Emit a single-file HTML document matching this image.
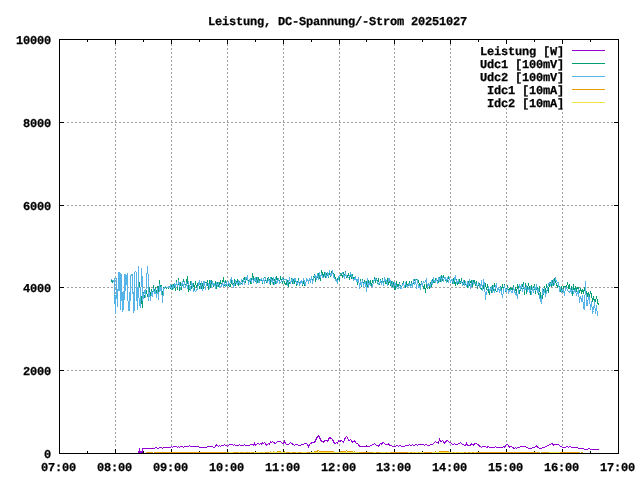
<!DOCTYPE html>
<html><head><meta charset="utf-8"><style>
html,body{margin:0;padding:0;background:#fff;width:640px;height:480px;overflow:hidden}
#tx{position:absolute;left:0;top:0;width:640px;height:480px;will-change:transform}
.t{position:absolute;font-family:"Liberation Mono",monospace;font-weight:bold;font-size:12px;letter-spacing:-0.2px;text-rendering:geometricPrecision;line-height:8px;height:8px;white-space:pre;color:#000;-webkit-text-stroke:0.25px #000}
</style></head><body>
<svg width="640" height="480" viewBox="0 0 640 480" shape-rendering="crispEdges" style="position:absolute;left:0;top:0"><rect width="640" height="480" fill="#fff"/><path d="M115 44h1v2h-1zM115 48h1v2h-1zM115 52h1v2h-1zM115 56h1v2h-1zM115 60h1v2h-1zM115 64h1v2h-1zM115 68h1v2h-1zM115 72h1v2h-1zM115 76h1v2h-1zM115 80h1v2h-1zM115 84h1v2h-1zM115 88h1v2h-1zM115 92h1v2h-1zM115 96h1v2h-1zM115 100h1v2h-1zM115 104h1v2h-1zM115 108h1v2h-1zM115 112h1v2h-1zM115 116h1v2h-1zM115 120h1v2h-1zM115 124h1v2h-1zM115 128h1v2h-1zM115 132h1v2h-1zM115 136h1v2h-1zM115 140h1v2h-1zM115 144h1v2h-1zM115 148h1v2h-1zM115 152h1v2h-1zM115 156h1v2h-1zM115 160h1v2h-1zM115 164h1v2h-1zM115 168h1v2h-1zM115 172h1v2h-1zM115 176h1v2h-1zM115 180h1v2h-1zM115 184h1v2h-1zM115 188h1v2h-1zM115 192h1v2h-1zM115 196h1v2h-1zM115 200h1v2h-1zM115 204h1v2h-1zM115 208h1v2h-1zM115 212h1v2h-1zM115 216h1v2h-1zM115 220h1v2h-1zM115 224h1v2h-1zM115 228h1v2h-1zM115 232h1v2h-1zM115 236h1v2h-1zM115 240h1v2h-1zM115 244h1v2h-1zM115 248h1v2h-1zM115 252h1v2h-1zM115 256h1v2h-1zM115 260h1v2h-1zM115 264h1v2h-1zM115 268h1v2h-1zM115 272h1v2h-1zM115 276h1v2h-1zM115 280h1v2h-1zM115 284h1v2h-1zM115 288h1v2h-1zM115 292h1v2h-1zM115 296h1v2h-1zM115 300h1v2h-1zM115 304h1v2h-1zM115 308h1v2h-1zM115 312h1v2h-1zM115 316h1v2h-1zM115 320h1v2h-1zM115 324h1v2h-1zM115 328h1v2h-1zM115 332h1v2h-1zM115 336h1v2h-1zM115 340h1v2h-1zM115 344h1v2h-1zM115 348h1v2h-1zM115 352h1v2h-1zM115 356h1v2h-1zM115 360h1v2h-1zM115 364h1v2h-1zM115 368h1v2h-1zM115 372h1v2h-1zM115 376h1v2h-1zM115 380h1v2h-1zM115 384h1v2h-1zM115 388h1v2h-1zM115 392h1v2h-1zM115 396h1v2h-1zM115 400h1v2h-1zM115 404h1v2h-1zM115 408h1v2h-1zM115 412h1v2h-1zM115 416h1v2h-1zM115 420h1v2h-1zM115 424h1v2h-1zM115 428h1v2h-1zM115 432h1v2h-1zM115 436h1v2h-1zM115 440h1v2h-1zM115 444h1v2h-1z" fill="#a0a0a0"/><path d="M171 44h1v2h-1zM171 48h1v2h-1zM171 52h1v2h-1zM171 56h1v2h-1zM171 60h1v2h-1zM171 64h1v2h-1zM171 68h1v2h-1zM171 72h1v2h-1zM171 76h1v2h-1zM171 80h1v2h-1zM171 84h1v2h-1zM171 88h1v2h-1zM171 92h1v2h-1zM171 96h1v2h-1zM171 100h1v2h-1zM171 104h1v2h-1zM171 108h1v2h-1zM171 112h1v2h-1zM171 116h1v2h-1zM171 120h1v2h-1zM171 124h1v2h-1zM171 128h1v2h-1zM171 132h1v2h-1zM171 136h1v2h-1zM171 140h1v2h-1zM171 144h1v2h-1zM171 148h1v2h-1zM171 152h1v2h-1zM171 156h1v2h-1zM171 160h1v2h-1zM171 164h1v2h-1zM171 168h1v2h-1zM171 172h1v2h-1zM171 176h1v2h-1zM171 180h1v2h-1zM171 184h1v2h-1zM171 188h1v2h-1zM171 192h1v2h-1zM171 196h1v2h-1zM171 200h1v2h-1zM171 204h1v2h-1zM171 208h1v2h-1zM171 212h1v2h-1zM171 216h1v2h-1zM171 220h1v2h-1zM171 224h1v2h-1zM171 228h1v2h-1zM171 232h1v2h-1zM171 236h1v2h-1zM171 240h1v2h-1zM171 244h1v2h-1zM171 248h1v2h-1zM171 252h1v2h-1zM171 256h1v2h-1zM171 260h1v2h-1zM171 264h1v2h-1zM171 268h1v2h-1zM171 272h1v2h-1zM171 276h1v2h-1zM171 280h1v2h-1zM171 284h1v2h-1zM171 288h1v2h-1zM171 292h1v2h-1zM171 296h1v2h-1zM171 300h1v2h-1zM171 304h1v2h-1zM171 308h1v2h-1zM171 312h1v2h-1zM171 316h1v2h-1zM171 320h1v2h-1zM171 324h1v2h-1zM171 328h1v2h-1zM171 332h1v2h-1zM171 336h1v2h-1zM171 340h1v2h-1zM171 344h1v2h-1zM171 348h1v2h-1zM171 352h1v2h-1zM171 356h1v2h-1zM171 360h1v2h-1zM171 364h1v2h-1zM171 368h1v2h-1zM171 372h1v2h-1zM171 376h1v2h-1zM171 380h1v2h-1zM171 384h1v2h-1zM171 388h1v2h-1zM171 392h1v2h-1zM171 396h1v2h-1zM171 400h1v2h-1zM171 404h1v2h-1zM171 408h1v2h-1zM171 412h1v2h-1zM171 416h1v2h-1zM171 420h1v2h-1zM171 424h1v2h-1zM171 428h1v2h-1zM171 432h1v2h-1zM171 436h1v2h-1zM171 440h1v2h-1zM171 444h1v2h-1z" fill="#a0a0a0"/><path d="M227 44h1v2h-1zM227 48h1v2h-1zM227 52h1v2h-1zM227 56h1v2h-1zM227 60h1v2h-1zM227 64h1v2h-1zM227 68h1v2h-1zM227 72h1v2h-1zM227 76h1v2h-1zM227 80h1v2h-1zM227 84h1v2h-1zM227 88h1v2h-1zM227 92h1v2h-1zM227 96h1v2h-1zM227 100h1v2h-1zM227 104h1v2h-1zM227 108h1v2h-1zM227 112h1v2h-1zM227 116h1v2h-1zM227 120h1v2h-1zM227 124h1v2h-1zM227 128h1v2h-1zM227 132h1v2h-1zM227 136h1v2h-1zM227 140h1v2h-1zM227 144h1v2h-1zM227 148h1v2h-1zM227 152h1v2h-1zM227 156h1v2h-1zM227 160h1v2h-1zM227 164h1v2h-1zM227 168h1v2h-1zM227 172h1v2h-1zM227 176h1v2h-1zM227 180h1v2h-1zM227 184h1v2h-1zM227 188h1v2h-1zM227 192h1v2h-1zM227 196h1v2h-1zM227 200h1v2h-1zM227 204h1v2h-1zM227 208h1v2h-1zM227 212h1v2h-1zM227 216h1v2h-1zM227 220h1v2h-1zM227 224h1v2h-1zM227 228h1v2h-1zM227 232h1v2h-1zM227 236h1v2h-1zM227 240h1v2h-1zM227 244h1v2h-1zM227 248h1v2h-1zM227 252h1v2h-1zM227 256h1v2h-1zM227 260h1v2h-1zM227 264h1v2h-1zM227 268h1v2h-1zM227 272h1v2h-1zM227 276h1v2h-1zM227 280h1v2h-1zM227 284h1v2h-1zM227 288h1v2h-1zM227 292h1v2h-1zM227 296h1v2h-1zM227 300h1v2h-1zM227 304h1v2h-1zM227 308h1v2h-1zM227 312h1v2h-1zM227 316h1v2h-1zM227 320h1v2h-1zM227 324h1v2h-1zM227 328h1v2h-1zM227 332h1v2h-1zM227 336h1v2h-1zM227 340h1v2h-1zM227 344h1v2h-1zM227 348h1v2h-1zM227 352h1v2h-1zM227 356h1v2h-1zM227 360h1v2h-1zM227 364h1v2h-1zM227 368h1v2h-1zM227 372h1v2h-1zM227 376h1v2h-1zM227 380h1v2h-1zM227 384h1v2h-1zM227 388h1v2h-1zM227 392h1v2h-1zM227 396h1v2h-1zM227 400h1v2h-1zM227 404h1v2h-1zM227 408h1v2h-1zM227 412h1v2h-1zM227 416h1v2h-1zM227 420h1v2h-1zM227 424h1v2h-1zM227 428h1v2h-1zM227 432h1v2h-1zM227 436h1v2h-1zM227 440h1v2h-1zM227 444h1v2h-1z" fill="#a0a0a0"/><path d="M283 44h1v2h-1zM283 48h1v2h-1zM283 52h1v2h-1zM283 56h1v2h-1zM283 60h1v2h-1zM283 64h1v2h-1zM283 68h1v2h-1zM283 72h1v2h-1zM283 76h1v2h-1zM283 80h1v2h-1zM283 84h1v2h-1zM283 88h1v2h-1zM283 92h1v2h-1zM283 96h1v2h-1zM283 100h1v2h-1zM283 104h1v2h-1zM283 108h1v2h-1zM283 112h1v2h-1zM283 116h1v2h-1zM283 120h1v2h-1zM283 124h1v2h-1zM283 128h1v2h-1zM283 132h1v2h-1zM283 136h1v2h-1zM283 140h1v2h-1zM283 144h1v2h-1zM283 148h1v2h-1zM283 152h1v2h-1zM283 156h1v2h-1zM283 160h1v2h-1zM283 164h1v2h-1zM283 168h1v2h-1zM283 172h1v2h-1zM283 176h1v2h-1zM283 180h1v2h-1zM283 184h1v2h-1zM283 188h1v2h-1zM283 192h1v2h-1zM283 196h1v2h-1zM283 200h1v2h-1zM283 204h1v2h-1zM283 208h1v2h-1zM283 212h1v2h-1zM283 216h1v2h-1zM283 220h1v2h-1zM283 224h1v2h-1zM283 228h1v2h-1zM283 232h1v2h-1zM283 236h1v2h-1zM283 240h1v2h-1zM283 244h1v2h-1zM283 248h1v2h-1zM283 252h1v2h-1zM283 256h1v2h-1zM283 260h1v2h-1zM283 264h1v2h-1zM283 268h1v2h-1zM283 272h1v2h-1zM283 276h1v2h-1zM283 280h1v2h-1zM283 284h1v2h-1zM283 288h1v2h-1zM283 292h1v2h-1zM283 296h1v2h-1zM283 300h1v2h-1zM283 304h1v2h-1zM283 308h1v2h-1zM283 312h1v2h-1zM283 316h1v2h-1zM283 320h1v2h-1zM283 324h1v2h-1zM283 328h1v2h-1zM283 332h1v2h-1zM283 336h1v2h-1zM283 340h1v2h-1zM283 344h1v2h-1zM283 348h1v2h-1zM283 352h1v2h-1zM283 356h1v2h-1zM283 360h1v2h-1zM283 364h1v2h-1zM283 368h1v2h-1zM283 372h1v2h-1zM283 376h1v2h-1zM283 380h1v2h-1zM283 384h1v2h-1zM283 388h1v2h-1zM283 392h1v2h-1zM283 396h1v2h-1zM283 400h1v2h-1zM283 404h1v2h-1zM283 408h1v2h-1zM283 412h1v2h-1zM283 416h1v2h-1zM283 420h1v2h-1zM283 424h1v2h-1zM283 428h1v2h-1zM283 432h1v2h-1zM283 436h1v2h-1zM283 440h1v2h-1zM283 444h1v2h-1z" fill="#a0a0a0"/><path d="M339 44h1v2h-1zM339 48h1v2h-1zM339 52h1v2h-1zM339 56h1v2h-1zM339 60h1v2h-1zM339 64h1v2h-1zM339 68h1v2h-1zM339 72h1v2h-1zM339 76h1v2h-1zM339 80h1v2h-1zM339 84h1v2h-1zM339 88h1v2h-1zM339 92h1v2h-1zM339 96h1v2h-1zM339 100h1v2h-1zM339 104h1v2h-1zM339 108h1v2h-1zM339 112h1v2h-1zM339 116h1v2h-1zM339 120h1v2h-1zM339 124h1v2h-1zM339 128h1v2h-1zM339 132h1v2h-1zM339 136h1v2h-1zM339 140h1v2h-1zM339 144h1v2h-1zM339 148h1v2h-1zM339 152h1v2h-1zM339 156h1v2h-1zM339 160h1v2h-1zM339 164h1v2h-1zM339 168h1v2h-1zM339 172h1v2h-1zM339 176h1v2h-1zM339 180h1v2h-1zM339 184h1v2h-1zM339 188h1v2h-1zM339 192h1v2h-1zM339 196h1v2h-1zM339 200h1v2h-1zM339 204h1v2h-1zM339 208h1v2h-1zM339 212h1v2h-1zM339 216h1v2h-1zM339 220h1v2h-1zM339 224h1v2h-1zM339 228h1v2h-1zM339 232h1v2h-1zM339 236h1v2h-1zM339 240h1v2h-1zM339 244h1v2h-1zM339 248h1v2h-1zM339 252h1v2h-1zM339 256h1v2h-1zM339 260h1v2h-1zM339 264h1v2h-1zM339 268h1v2h-1zM339 272h1v2h-1zM339 276h1v2h-1zM339 280h1v2h-1zM339 284h1v2h-1zM339 288h1v2h-1zM339 292h1v2h-1zM339 296h1v2h-1zM339 300h1v2h-1zM339 304h1v2h-1zM339 308h1v2h-1zM339 312h1v2h-1zM339 316h1v2h-1zM339 320h1v2h-1zM339 324h1v2h-1zM339 328h1v2h-1zM339 332h1v2h-1zM339 336h1v2h-1zM339 340h1v2h-1zM339 344h1v2h-1zM339 348h1v2h-1zM339 352h1v2h-1zM339 356h1v2h-1zM339 360h1v2h-1zM339 364h1v2h-1zM339 368h1v2h-1zM339 372h1v2h-1zM339 376h1v2h-1zM339 380h1v2h-1zM339 384h1v2h-1zM339 388h1v2h-1zM339 392h1v2h-1zM339 396h1v2h-1zM339 400h1v2h-1zM339 404h1v2h-1zM339 408h1v2h-1zM339 412h1v2h-1zM339 416h1v2h-1zM339 420h1v2h-1zM339 424h1v2h-1zM339 428h1v2h-1zM339 432h1v2h-1zM339 436h1v2h-1zM339 440h1v2h-1zM339 444h1v2h-1z" fill="#a0a0a0"/><path d="M394 44h1v2h-1zM394 48h1v2h-1zM394 52h1v2h-1zM394 56h1v2h-1zM394 60h1v2h-1zM394 64h1v2h-1zM394 68h1v2h-1zM394 72h1v2h-1zM394 76h1v2h-1zM394 80h1v2h-1zM394 84h1v2h-1zM394 88h1v2h-1zM394 92h1v2h-1zM394 96h1v2h-1zM394 100h1v2h-1zM394 104h1v2h-1zM394 108h1v2h-1zM394 112h1v2h-1zM394 116h1v2h-1zM394 120h1v2h-1zM394 124h1v2h-1zM394 128h1v2h-1zM394 132h1v2h-1zM394 136h1v2h-1zM394 140h1v2h-1zM394 144h1v2h-1zM394 148h1v2h-1zM394 152h1v2h-1zM394 156h1v2h-1zM394 160h1v2h-1zM394 164h1v2h-1zM394 168h1v2h-1zM394 172h1v2h-1zM394 176h1v2h-1zM394 180h1v2h-1zM394 184h1v2h-1zM394 188h1v2h-1zM394 192h1v2h-1zM394 196h1v2h-1zM394 200h1v2h-1zM394 204h1v2h-1zM394 208h1v2h-1zM394 212h1v2h-1zM394 216h1v2h-1zM394 220h1v2h-1zM394 224h1v2h-1zM394 228h1v2h-1zM394 232h1v2h-1zM394 236h1v2h-1zM394 240h1v2h-1zM394 244h1v2h-1zM394 248h1v2h-1zM394 252h1v2h-1zM394 256h1v2h-1zM394 260h1v2h-1zM394 264h1v2h-1zM394 268h1v2h-1zM394 272h1v2h-1zM394 276h1v2h-1zM394 280h1v2h-1zM394 284h1v2h-1zM394 288h1v2h-1zM394 292h1v2h-1zM394 296h1v2h-1zM394 300h1v2h-1zM394 304h1v2h-1zM394 308h1v2h-1zM394 312h1v2h-1zM394 316h1v2h-1zM394 320h1v2h-1zM394 324h1v2h-1zM394 328h1v2h-1zM394 332h1v2h-1zM394 336h1v2h-1zM394 340h1v2h-1zM394 344h1v2h-1zM394 348h1v2h-1zM394 352h1v2h-1zM394 356h1v2h-1zM394 360h1v2h-1zM394 364h1v2h-1zM394 368h1v2h-1zM394 372h1v2h-1zM394 376h1v2h-1zM394 380h1v2h-1zM394 384h1v2h-1zM394 388h1v2h-1zM394 392h1v2h-1zM394 396h1v2h-1zM394 400h1v2h-1zM394 404h1v2h-1zM394 408h1v2h-1zM394 412h1v2h-1zM394 416h1v2h-1zM394 420h1v2h-1zM394 424h1v2h-1zM394 428h1v2h-1zM394 432h1v2h-1zM394 436h1v2h-1zM394 440h1v2h-1zM394 444h1v2h-1z" fill="#a0a0a0"/><path d="M450 44h1v2h-1zM450 48h1v2h-1zM450 52h1v2h-1zM450 56h1v2h-1zM450 60h1v2h-1zM450 64h1v2h-1zM450 68h1v2h-1zM450 72h1v2h-1zM450 76h1v2h-1zM450 80h1v2h-1zM450 84h1v2h-1zM450 88h1v2h-1zM450 92h1v2h-1zM450 96h1v2h-1zM450 100h1v2h-1zM450 104h1v2h-1zM450 108h1v2h-1zM450 112h1v2h-1zM450 116h1v2h-1zM450 120h1v2h-1zM450 124h1v2h-1zM450 128h1v2h-1zM450 132h1v2h-1zM450 136h1v2h-1zM450 140h1v2h-1zM450 144h1v2h-1zM450 148h1v2h-1zM450 152h1v2h-1zM450 156h1v2h-1zM450 160h1v2h-1zM450 164h1v2h-1zM450 168h1v2h-1zM450 172h1v2h-1zM450 176h1v2h-1zM450 180h1v2h-1zM450 184h1v2h-1zM450 188h1v2h-1zM450 192h1v2h-1zM450 196h1v2h-1zM450 200h1v2h-1zM450 204h1v2h-1zM450 208h1v2h-1zM450 212h1v2h-1zM450 216h1v2h-1zM450 220h1v2h-1zM450 224h1v2h-1zM450 228h1v2h-1zM450 232h1v2h-1zM450 236h1v2h-1zM450 240h1v2h-1zM450 244h1v2h-1zM450 248h1v2h-1zM450 252h1v2h-1zM450 256h1v2h-1zM450 260h1v2h-1zM450 264h1v2h-1zM450 268h1v2h-1zM450 272h1v2h-1zM450 276h1v2h-1zM450 280h1v2h-1zM450 284h1v2h-1zM450 288h1v2h-1zM450 292h1v2h-1zM450 296h1v2h-1zM450 300h1v2h-1zM450 304h1v2h-1zM450 308h1v2h-1zM450 312h1v2h-1zM450 316h1v2h-1zM450 320h1v2h-1zM450 324h1v2h-1zM450 328h1v2h-1zM450 332h1v2h-1zM450 336h1v2h-1zM450 340h1v2h-1zM450 344h1v2h-1zM450 348h1v2h-1zM450 352h1v2h-1zM450 356h1v2h-1zM450 360h1v2h-1zM450 364h1v2h-1zM450 368h1v2h-1zM450 372h1v2h-1zM450 376h1v2h-1zM450 380h1v2h-1zM450 384h1v2h-1zM450 388h1v2h-1zM450 392h1v2h-1zM450 396h1v2h-1zM450 400h1v2h-1zM450 404h1v2h-1zM450 408h1v2h-1zM450 412h1v2h-1zM450 416h1v2h-1zM450 420h1v2h-1zM450 424h1v2h-1zM450 428h1v2h-1zM450 432h1v2h-1zM450 436h1v2h-1zM450 440h1v2h-1zM450 444h1v2h-1z" fill="#a0a0a0"/><path d="M506 108h1v2h-1zM506 112h1v2h-1zM506 116h1v2h-1zM506 120h1v2h-1zM506 124h1v2h-1zM506 128h1v2h-1zM506 132h1v2h-1zM506 136h1v2h-1zM506 140h1v2h-1zM506 144h1v2h-1zM506 148h1v2h-1zM506 152h1v2h-1zM506 156h1v2h-1zM506 160h1v2h-1zM506 164h1v2h-1zM506 168h1v2h-1zM506 172h1v2h-1zM506 176h1v2h-1zM506 180h1v2h-1zM506 184h1v2h-1zM506 188h1v2h-1zM506 192h1v2h-1zM506 196h1v2h-1zM506 200h1v2h-1zM506 204h1v2h-1zM506 208h1v2h-1zM506 212h1v2h-1zM506 216h1v2h-1zM506 220h1v2h-1zM506 224h1v2h-1zM506 228h1v2h-1zM506 232h1v2h-1zM506 236h1v2h-1zM506 240h1v2h-1zM506 244h1v2h-1zM506 248h1v2h-1zM506 252h1v2h-1zM506 256h1v2h-1zM506 260h1v2h-1zM506 264h1v2h-1zM506 268h1v2h-1zM506 272h1v2h-1zM506 276h1v2h-1zM506 280h1v2h-1zM506 284h1v2h-1zM506 288h1v2h-1zM506 292h1v2h-1zM506 296h1v2h-1zM506 300h1v2h-1zM506 304h1v2h-1zM506 308h1v2h-1zM506 312h1v2h-1zM506 316h1v2h-1zM506 320h1v2h-1zM506 324h1v2h-1zM506 328h1v2h-1zM506 332h1v2h-1zM506 336h1v2h-1zM506 340h1v2h-1zM506 344h1v2h-1zM506 348h1v2h-1zM506 352h1v2h-1zM506 356h1v2h-1zM506 360h1v2h-1zM506 364h1v2h-1zM506 368h1v2h-1zM506 372h1v2h-1zM506 376h1v2h-1zM506 380h1v2h-1zM506 384h1v2h-1zM506 388h1v2h-1zM506 392h1v2h-1zM506 396h1v2h-1zM506 400h1v2h-1zM506 404h1v2h-1zM506 408h1v2h-1zM506 412h1v2h-1zM506 416h1v2h-1zM506 420h1v2h-1zM506 424h1v2h-1zM506 428h1v2h-1zM506 432h1v2h-1zM506 436h1v2h-1zM506 440h1v2h-1zM506 444h1v2h-1z" fill="#a0a0a0"/><path d="M562 108h1v2h-1zM562 112h1v2h-1zM562 116h1v2h-1zM562 120h1v2h-1zM562 124h1v2h-1zM562 128h1v2h-1zM562 132h1v2h-1zM562 136h1v2h-1zM562 140h1v2h-1zM562 144h1v2h-1zM562 148h1v2h-1zM562 152h1v2h-1zM562 156h1v2h-1zM562 160h1v2h-1zM562 164h1v2h-1zM562 168h1v2h-1zM562 172h1v2h-1zM562 176h1v2h-1zM562 180h1v2h-1zM562 184h1v2h-1zM562 188h1v2h-1zM562 192h1v2h-1zM562 196h1v2h-1zM562 200h1v2h-1zM562 204h1v2h-1zM562 208h1v2h-1zM562 212h1v2h-1zM562 216h1v2h-1zM562 220h1v2h-1zM562 224h1v2h-1zM562 228h1v2h-1zM562 232h1v2h-1zM562 236h1v2h-1zM562 240h1v2h-1zM562 244h1v2h-1zM562 248h1v2h-1zM562 252h1v2h-1zM562 256h1v2h-1zM562 260h1v2h-1zM562 264h1v2h-1zM562 268h1v2h-1zM562 272h1v2h-1zM562 276h1v2h-1zM562 280h1v2h-1zM562 284h1v2h-1zM562 288h1v2h-1zM562 292h1v2h-1zM562 296h1v2h-1zM562 300h1v2h-1zM562 304h1v2h-1zM562 308h1v2h-1zM562 312h1v2h-1zM562 316h1v2h-1zM562 320h1v2h-1zM562 324h1v2h-1zM562 328h1v2h-1zM562 332h1v2h-1zM562 336h1v2h-1zM562 340h1v2h-1zM562 344h1v2h-1zM562 348h1v2h-1zM562 352h1v2h-1zM562 356h1v2h-1zM562 360h1v2h-1zM562 364h1v2h-1zM562 368h1v2h-1zM562 372h1v2h-1zM562 376h1v2h-1zM562 380h1v2h-1zM562 384h1v2h-1zM562 388h1v2h-1zM562 392h1v2h-1zM562 396h1v2h-1zM562 400h1v2h-1zM562 404h1v2h-1zM562 408h1v2h-1zM562 412h1v2h-1zM562 416h1v2h-1zM562 420h1v2h-1zM562 424h1v2h-1zM562 428h1v2h-1zM562 432h1v2h-1zM562 436h1v2h-1zM562 440h1v2h-1zM562 444h1v2h-1z" fill="#a0a0a0"/><path d="M67 370h2v1h-2zM71 370h2v1h-2zM75 370h2v1h-2zM79 370h2v1h-2zM83 370h2v1h-2zM87 370h2v1h-2zM91 370h2v1h-2zM95 370h2v1h-2zM99 370h2v1h-2zM103 370h2v1h-2zM107 370h2v1h-2zM111 370h2v1h-2zM115 370h2v1h-2zM119 370h2v1h-2zM123 370h2v1h-2zM127 370h2v1h-2zM131 370h2v1h-2zM135 370h2v1h-2zM139 370h2v1h-2zM143 370h2v1h-2zM147 370h2v1h-2zM151 370h2v1h-2zM155 370h2v1h-2zM159 370h2v1h-2zM163 370h2v1h-2zM167 370h2v1h-2zM171 370h2v1h-2zM175 370h2v1h-2zM179 370h2v1h-2zM183 370h2v1h-2zM187 370h2v1h-2zM191 370h2v1h-2zM195 370h2v1h-2zM199 370h2v1h-2zM203 370h2v1h-2zM207 370h2v1h-2zM211 370h2v1h-2zM215 370h2v1h-2zM219 370h2v1h-2zM223 370h2v1h-2zM227 370h2v1h-2zM231 370h2v1h-2zM235 370h2v1h-2zM239 370h2v1h-2zM243 370h2v1h-2zM247 370h2v1h-2zM251 370h2v1h-2zM255 370h2v1h-2zM259 370h2v1h-2zM263 370h2v1h-2zM267 370h2v1h-2zM271 370h2v1h-2zM275 370h2v1h-2zM279 370h2v1h-2zM283 370h2v1h-2zM287 370h2v1h-2zM291 370h2v1h-2zM295 370h2v1h-2zM299 370h2v1h-2zM303 370h2v1h-2zM307 370h2v1h-2zM311 370h2v1h-2zM315 370h2v1h-2zM319 370h2v1h-2zM323 370h2v1h-2zM327 370h2v1h-2zM331 370h2v1h-2zM335 370h2v1h-2zM339 370h2v1h-2zM343 370h2v1h-2zM347 370h2v1h-2zM351 370h2v1h-2zM355 370h2v1h-2zM359 370h2v1h-2zM363 370h2v1h-2zM367 370h2v1h-2zM371 370h2v1h-2zM375 370h2v1h-2zM379 370h2v1h-2zM383 370h2v1h-2zM387 370h2v1h-2zM391 370h2v1h-2zM395 370h2v1h-2zM399 370h2v1h-2zM403 370h2v1h-2zM407 370h2v1h-2zM411 370h2v1h-2zM415 370h2v1h-2zM419 370h2v1h-2zM423 370h2v1h-2zM427 370h2v1h-2zM431 370h2v1h-2zM435 370h2v1h-2zM439 370h2v1h-2zM443 370h2v1h-2zM447 370h2v1h-2zM451 370h2v1h-2zM455 370h2v1h-2zM459 370h2v1h-2zM463 370h2v1h-2zM467 370h2v1h-2zM471 370h2v1h-2zM475 370h2v1h-2zM479 370h2v1h-2zM483 370h2v1h-2zM487 370h2v1h-2zM491 370h2v1h-2zM495 370h2v1h-2zM499 370h2v1h-2zM503 370h2v1h-2zM507 370h2v1h-2zM511 370h2v1h-2zM515 370h2v1h-2zM519 370h2v1h-2zM523 370h2v1h-2zM527 370h2v1h-2zM531 370h2v1h-2zM535 370h2v1h-2zM539 370h2v1h-2zM543 370h2v1h-2zM547 370h2v1h-2zM551 370h2v1h-2zM555 370h2v1h-2zM559 370h2v1h-2zM563 370h2v1h-2zM567 370h2v1h-2zM571 370h2v1h-2zM575 370h2v1h-2zM579 370h2v1h-2zM583 370h2v1h-2zM587 370h2v1h-2zM591 370h2v1h-2zM595 370h2v1h-2zM599 370h2v1h-2zM603 370h2v1h-2zM607 370h2v1h-2zM611 370h2v1h-2z" fill="#a0a0a0"/><path d="M67 287h2v1h-2zM71 287h2v1h-2zM75 287h2v1h-2zM79 287h2v1h-2zM83 287h2v1h-2zM87 287h2v1h-2zM91 287h2v1h-2zM95 287h2v1h-2zM99 287h2v1h-2zM103 287h2v1h-2zM107 287h2v1h-2zM111 287h2v1h-2zM115 287h2v1h-2zM119 287h2v1h-2zM123 287h2v1h-2zM127 287h2v1h-2zM131 287h2v1h-2zM135 287h2v1h-2zM139 287h2v1h-2zM143 287h2v1h-2zM147 287h2v1h-2zM151 287h2v1h-2zM155 287h2v1h-2zM159 287h2v1h-2zM163 287h2v1h-2zM167 287h2v1h-2zM171 287h2v1h-2zM175 287h2v1h-2zM179 287h2v1h-2zM183 287h2v1h-2zM187 287h2v1h-2zM191 287h2v1h-2zM195 287h2v1h-2zM199 287h2v1h-2zM203 287h2v1h-2zM207 287h2v1h-2zM211 287h2v1h-2zM215 287h2v1h-2zM219 287h2v1h-2zM223 287h2v1h-2zM227 287h2v1h-2zM231 287h2v1h-2zM235 287h2v1h-2zM239 287h2v1h-2zM243 287h2v1h-2zM247 287h2v1h-2zM251 287h2v1h-2zM255 287h2v1h-2zM259 287h2v1h-2zM263 287h2v1h-2zM267 287h2v1h-2zM271 287h2v1h-2zM275 287h2v1h-2zM279 287h2v1h-2zM283 287h2v1h-2zM287 287h2v1h-2zM291 287h2v1h-2zM295 287h2v1h-2zM299 287h2v1h-2zM303 287h2v1h-2zM307 287h2v1h-2zM311 287h2v1h-2zM315 287h2v1h-2zM319 287h2v1h-2zM323 287h2v1h-2zM327 287h2v1h-2zM331 287h2v1h-2zM335 287h2v1h-2zM339 287h2v1h-2zM343 287h2v1h-2zM347 287h2v1h-2zM351 287h2v1h-2zM355 287h2v1h-2zM359 287h2v1h-2zM363 287h2v1h-2zM367 287h2v1h-2zM371 287h2v1h-2zM375 287h2v1h-2zM379 287h2v1h-2zM383 287h2v1h-2zM387 287h2v1h-2zM391 287h2v1h-2zM395 287h2v1h-2zM399 287h2v1h-2zM403 287h2v1h-2zM407 287h2v1h-2zM411 287h2v1h-2zM415 287h2v1h-2zM419 287h2v1h-2zM423 287h2v1h-2zM427 287h2v1h-2zM431 287h2v1h-2zM435 287h2v1h-2zM439 287h2v1h-2zM443 287h2v1h-2zM447 287h2v1h-2zM451 287h2v1h-2zM455 287h2v1h-2zM459 287h2v1h-2zM463 287h2v1h-2zM467 287h2v1h-2zM471 287h2v1h-2zM475 287h2v1h-2zM479 287h2v1h-2zM483 287h2v1h-2zM487 287h2v1h-2zM491 287h2v1h-2zM495 287h2v1h-2zM499 287h2v1h-2zM503 287h2v1h-2zM507 287h2v1h-2zM511 287h2v1h-2zM515 287h2v1h-2zM519 287h2v1h-2zM523 287h2v1h-2zM527 287h2v1h-2zM531 287h2v1h-2zM535 287h2v1h-2zM539 287h2v1h-2zM543 287h2v1h-2zM547 287h2v1h-2zM551 287h2v1h-2zM555 287h2v1h-2zM559 287h2v1h-2zM563 287h2v1h-2zM567 287h2v1h-2zM571 287h2v1h-2zM575 287h2v1h-2zM579 287h2v1h-2zM583 287h2v1h-2zM587 287h2v1h-2zM591 287h2v1h-2zM595 287h2v1h-2zM599 287h2v1h-2zM603 287h2v1h-2zM607 287h2v1h-2zM611 287h2v1h-2z" fill="#a0a0a0"/><path d="M67 205h2v1h-2zM71 205h2v1h-2zM75 205h2v1h-2zM79 205h2v1h-2zM83 205h2v1h-2zM87 205h2v1h-2zM91 205h2v1h-2zM95 205h2v1h-2zM99 205h2v1h-2zM103 205h2v1h-2zM107 205h2v1h-2zM111 205h2v1h-2zM115 205h2v1h-2zM119 205h2v1h-2zM123 205h2v1h-2zM127 205h2v1h-2zM131 205h2v1h-2zM135 205h2v1h-2zM139 205h2v1h-2zM143 205h2v1h-2zM147 205h2v1h-2zM151 205h2v1h-2zM155 205h2v1h-2zM159 205h2v1h-2zM163 205h2v1h-2zM167 205h2v1h-2zM171 205h2v1h-2zM175 205h2v1h-2zM179 205h2v1h-2zM183 205h2v1h-2zM187 205h2v1h-2zM191 205h2v1h-2zM195 205h2v1h-2zM199 205h2v1h-2zM203 205h2v1h-2zM207 205h2v1h-2zM211 205h2v1h-2zM215 205h2v1h-2zM219 205h2v1h-2zM223 205h2v1h-2zM227 205h2v1h-2zM231 205h2v1h-2zM235 205h2v1h-2zM239 205h2v1h-2zM243 205h2v1h-2zM247 205h2v1h-2zM251 205h2v1h-2zM255 205h2v1h-2zM259 205h2v1h-2zM263 205h2v1h-2zM267 205h2v1h-2zM271 205h2v1h-2zM275 205h2v1h-2zM279 205h2v1h-2zM283 205h2v1h-2zM287 205h2v1h-2zM291 205h2v1h-2zM295 205h2v1h-2zM299 205h2v1h-2zM303 205h2v1h-2zM307 205h2v1h-2zM311 205h2v1h-2zM315 205h2v1h-2zM319 205h2v1h-2zM323 205h2v1h-2zM327 205h2v1h-2zM331 205h2v1h-2zM335 205h2v1h-2zM339 205h2v1h-2zM343 205h2v1h-2zM347 205h2v1h-2zM351 205h2v1h-2zM355 205h2v1h-2zM359 205h2v1h-2zM363 205h2v1h-2zM367 205h2v1h-2zM371 205h2v1h-2zM375 205h2v1h-2zM379 205h2v1h-2zM383 205h2v1h-2zM387 205h2v1h-2zM391 205h2v1h-2zM395 205h2v1h-2zM399 205h2v1h-2zM403 205h2v1h-2zM407 205h2v1h-2zM411 205h2v1h-2zM415 205h2v1h-2zM419 205h2v1h-2zM423 205h2v1h-2zM427 205h2v1h-2zM431 205h2v1h-2zM435 205h2v1h-2zM439 205h2v1h-2zM443 205h2v1h-2zM447 205h2v1h-2zM451 205h2v1h-2zM455 205h2v1h-2zM459 205h2v1h-2zM463 205h2v1h-2zM467 205h2v1h-2zM471 205h2v1h-2zM475 205h2v1h-2zM479 205h2v1h-2zM483 205h2v1h-2zM487 205h2v1h-2zM491 205h2v1h-2zM495 205h2v1h-2zM499 205h2v1h-2zM503 205h2v1h-2zM507 205h2v1h-2zM511 205h2v1h-2zM515 205h2v1h-2zM519 205h2v1h-2zM523 205h2v1h-2zM527 205h2v1h-2zM531 205h2v1h-2zM535 205h2v1h-2zM539 205h2v1h-2zM543 205h2v1h-2zM547 205h2v1h-2zM551 205h2v1h-2zM555 205h2v1h-2zM559 205h2v1h-2zM563 205h2v1h-2zM567 205h2v1h-2zM571 205h2v1h-2zM575 205h2v1h-2zM579 205h2v1h-2zM583 205h2v1h-2zM587 205h2v1h-2zM591 205h2v1h-2zM595 205h2v1h-2zM599 205h2v1h-2zM603 205h2v1h-2zM607 205h2v1h-2zM611 205h2v1h-2z" fill="#a0a0a0"/><path d="M67 122h2v1h-2zM71 122h2v1h-2zM75 122h2v1h-2zM79 122h2v1h-2zM83 122h2v1h-2zM87 122h2v1h-2zM91 122h2v1h-2zM95 122h2v1h-2zM99 122h2v1h-2zM103 122h2v1h-2zM107 122h2v1h-2zM111 122h2v1h-2zM115 122h2v1h-2zM119 122h2v1h-2zM123 122h2v1h-2zM127 122h2v1h-2zM131 122h2v1h-2zM135 122h2v1h-2zM139 122h2v1h-2zM143 122h2v1h-2zM147 122h2v1h-2zM151 122h2v1h-2zM155 122h2v1h-2zM159 122h2v1h-2zM163 122h2v1h-2zM167 122h2v1h-2zM171 122h2v1h-2zM175 122h2v1h-2zM179 122h2v1h-2zM183 122h2v1h-2zM187 122h2v1h-2zM191 122h2v1h-2zM195 122h2v1h-2zM199 122h2v1h-2zM203 122h2v1h-2zM207 122h2v1h-2zM211 122h2v1h-2zM215 122h2v1h-2zM219 122h2v1h-2zM223 122h2v1h-2zM227 122h2v1h-2zM231 122h2v1h-2zM235 122h2v1h-2zM239 122h2v1h-2zM243 122h2v1h-2zM247 122h2v1h-2zM251 122h2v1h-2zM255 122h2v1h-2zM259 122h2v1h-2zM263 122h2v1h-2zM267 122h2v1h-2zM271 122h2v1h-2zM275 122h2v1h-2zM279 122h2v1h-2zM283 122h2v1h-2zM287 122h2v1h-2zM291 122h2v1h-2zM295 122h2v1h-2zM299 122h2v1h-2zM303 122h2v1h-2zM307 122h2v1h-2zM311 122h2v1h-2zM315 122h2v1h-2zM319 122h2v1h-2zM323 122h2v1h-2zM327 122h2v1h-2zM331 122h2v1h-2zM335 122h2v1h-2zM339 122h2v1h-2zM343 122h2v1h-2zM347 122h2v1h-2zM351 122h2v1h-2zM355 122h2v1h-2zM359 122h2v1h-2zM363 122h2v1h-2zM367 122h2v1h-2zM371 122h2v1h-2zM375 122h2v1h-2zM379 122h2v1h-2zM383 122h2v1h-2zM387 122h2v1h-2zM391 122h2v1h-2zM395 122h2v1h-2zM399 122h2v1h-2zM403 122h2v1h-2zM407 122h2v1h-2zM411 122h2v1h-2zM415 122h2v1h-2zM419 122h2v1h-2zM423 122h2v1h-2zM427 122h2v1h-2zM431 122h2v1h-2zM435 122h2v1h-2zM439 122h2v1h-2zM443 122h2v1h-2zM447 122h2v1h-2zM451 122h2v1h-2zM455 122h2v1h-2zM459 122h2v1h-2zM463 122h2v1h-2zM467 122h2v1h-2zM471 122h2v1h-2zM475 122h2v1h-2zM479 122h2v1h-2zM483 122h2v1h-2zM487 122h2v1h-2zM491 122h2v1h-2zM495 122h2v1h-2zM499 122h2v1h-2zM503 122h2v1h-2zM507 122h2v1h-2zM511 122h2v1h-2zM515 122h2v1h-2zM519 122h2v1h-2zM523 122h2v1h-2zM527 122h2v1h-2zM531 122h2v1h-2zM535 122h2v1h-2zM539 122h2v1h-2zM543 122h2v1h-2zM547 122h2v1h-2zM551 122h2v1h-2zM555 122h2v1h-2zM559 122h2v1h-2zM563 122h2v1h-2zM567 122h2v1h-2zM571 122h2v1h-2zM575 122h2v1h-2zM579 122h2v1h-2zM583 122h2v1h-2zM587 122h2v1h-2zM591 122h2v1h-2zM595 122h2v1h-2zM599 122h2v1h-2zM603 122h2v1h-2zM607 122h2v1h-2zM611 122h2v1h-2z" fill="#a0a0a0"/><rect x="59" y="39" width="560" height="1" fill="#000"/><rect x="59" y="453" width="560" height="1" fill="#000"/><rect x="59" y="39" width="1" height="415" fill="#000"/><rect x="618" y="39" width="1" height="415" fill="#000"/><rect x="59" y="449" width="1" height="5" fill="#000"/><rect x="59" y="39" width="1" height="5" fill="#000"/><rect x="115" y="449" width="1" height="5" fill="#000"/><rect x="115" y="39" width="1" height="5" fill="#000"/><rect x="171" y="449" width="1" height="5" fill="#000"/><rect x="171" y="39" width="1" height="5" fill="#000"/><rect x="227" y="449" width="1" height="5" fill="#000"/><rect x="227" y="39" width="1" height="5" fill="#000"/><rect x="283" y="449" width="1" height="5" fill="#000"/><rect x="283" y="39" width="1" height="5" fill="#000"/><rect x="339" y="449" width="1" height="5" fill="#000"/><rect x="339" y="39" width="1" height="5" fill="#000"/><rect x="394" y="449" width="1" height="5" fill="#000"/><rect x="394" y="39" width="1" height="5" fill="#000"/><rect x="450" y="449" width="1" height="5" fill="#000"/><rect x="450" y="39" width="1" height="5" fill="#000"/><rect x="506" y="449" width="1" height="5" fill="#000"/><rect x="506" y="39" width="1" height="5" fill="#000"/><rect x="562" y="449" width="1" height="5" fill="#000"/><rect x="562" y="39" width="1" height="5" fill="#000"/><rect x="618" y="449" width="1" height="5" fill="#000"/><rect x="618" y="39" width="1" height="5" fill="#000"/><rect x="87" y="451" width="1" height="3" fill="#000"/><rect x="87" y="39" width="1" height="3" fill="#000"/><rect x="143" y="451" width="1" height="3" fill="#000"/><rect x="143" y="39" width="1" height="3" fill="#000"/><rect x="199" y="451" width="1" height="3" fill="#000"/><rect x="199" y="39" width="1" height="3" fill="#000"/><rect x="255" y="451" width="1" height="3" fill="#000"/><rect x="255" y="39" width="1" height="3" fill="#000"/><rect x="311" y="451" width="1" height="3" fill="#000"/><rect x="311" y="39" width="1" height="3" fill="#000"/><rect x="366" y="451" width="1" height="3" fill="#000"/><rect x="366" y="39" width="1" height="3" fill="#000"/><rect x="422" y="451" width="1" height="3" fill="#000"/><rect x="422" y="39" width="1" height="3" fill="#000"/><rect x="478" y="451" width="1" height="3" fill="#000"/><rect x="478" y="39" width="1" height="3" fill="#000"/><rect x="534" y="451" width="1" height="3" fill="#000"/><rect x="534" y="39" width="1" height="3" fill="#000"/><rect x="590" y="451" width="1" height="3" fill="#000"/><rect x="590" y="39" width="1" height="3" fill="#000"/><rect x="59" y="453" width="5" height="1" fill="#000"/><rect x="614" y="453" width="5" height="1" fill="#000"/><rect x="59" y="370" width="5" height="1" fill="#000"/><rect x="614" y="370" width="5" height="1" fill="#000"/><rect x="59" y="287" width="5" height="1" fill="#000"/><rect x="614" y="287" width="5" height="1" fill="#000"/><rect x="59" y="205" width="5" height="1" fill="#000"/><rect x="614" y="205" width="5" height="1" fill="#000"/><rect x="59" y="122" width="5" height="1" fill="#000"/><rect x="614" y="122" width="5" height="1" fill="#000"/><rect x="59" y="39" width="5" height="1" fill="#000"/><rect x="614" y="39" width="5" height="1" fill="#000"/><rect x="572" y="50" width="33" height="1" fill="#9400d3"/><rect x="572" y="63" width="33" height="1" fill="#009e73"/><rect x="572" y="76" width="33" height="1" fill="#56b4e9"/><rect x="572" y="89" width="33" height="1" fill="#e69f00"/><rect x="572" y="102" width="33" height="1" fill="#f0e442"/><rect x="138" y="451" width="1" height="2" fill="#9400d3"/><rect x="139" y="448" width="1" height="5" fill="#9400d3"/><rect x="140" y="451" width="2" height="2" fill="#9400d3"/><rect x="142" y="448" width="1" height="5" fill="#9400d3"/><polyline points="142.5,448.5 154.5,448.5 155.5,447.5 156.5,447.5 157.5,448.5 158.5,448.5 159.5,447.5 161.5,447.5 162.5,448.5 163.5,447.5 170.5,447.5 171.5,446.5 172.5,447.5 173.5,446.5 176.5,446.5 177.5,447.5 178.5,446.5 179.5,447.5 180.5,446.5 182.5,446.5 183.5,447.5 184.5,446.5 188.5,446.5 189.5,445.5 190.5,446.5 198.5,446.5 199.5,447.5 206.5,447.5 207.5,446.5 212.5,446.5 213.5,447.5 214.5,447.5 215.5,446.5 216.5,444.5 217.5,445.5 218.5,446.5 219.5,445.5 220.5,446.5 221.5,445.5 223.5,445.5 224.5,444.5 225.5,445.5 226.5,445.5 227.5,446.5 228.5,445.5 229.5,444.5 232.5,444.5 233.5,445.5 234.5,444.5 235.5,445.5 238.5,445.5 239.5,444.5 240.5,445.5 243.5,445.5 244.5,444.5 245.5,445.5 249.5,445.5 250.5,444.5 252.5,444.5 253.5,445.5 254.5,443.5 255.5,445.5 256.5,444.5 257.5,443.5 258.5,443.5 259.5,444.5 260.5,443.5 261.5,444.5 262.5,442.5 263.5,443.5 264.5,442.5 265.5,443.5 266.5,445.5 267.5,444.5 268.5,443.5 269.5,444.5 270.5,441.5 271.5,442.5 272.5,441.5 273.5,442.5 275.5,443.5 276.5,442.5 277.5,441.5 280.5,441.5 281.5,442.5 282.5,443.5 283.5,443.5 284.5,441.5 285.5,443.5 286.5,444.5 288.5,444.5 289.5,443.5 290.5,442.5 291.5,443.5 293.5,444.5 294.5,445.5 295.5,444.5 297.5,444.5 298.5,445.5 300.5,445.5 301.5,444.5 303.5,444.5 304.5,443.5 306.5,443.5 307.5,444.5 308.5,446.5 309.5,444.5 310.5,443.5 312.5,442.5 314.5,442.5 315.5,440.5 316.5,438.5 317.5,436.5 318.5,435.5 319.5,437.5 320.5,439.5 321.5,441.5 322.5,441.5 323.5,442.5 324.5,440.5 326.5,440.5 327.5,441.5 328.5,439.5 329.5,437.5 331.5,438.5 332.5,439.5 333.5,441.5 334.5,443.5 335.5,443.5 336.5,442.5 337.5,443.5 338.5,440.5 339.5,441.5 341.5,440.5 342.5,441.5 343.5,442.5 344.5,439.5 345.5,437.5 346.5,436.5 347.5,437.5 348.5,440.5 349.5,440.5 350.5,439.5 351.5,440.5 352.5,442.5 353.5,441.5 354.5,440.5 355.5,442.5 356.5,443.5 357.5,443.5 358.5,444.5 359.5,446.5 366.5,446.5 366.5,445.5 367.5,446.5 369.5,446.5 370.5,445.5 371.5,445.5 372.5,444.5 373.5,444.5 374.5,443.5 375.5,444.5 376.5,445.5 377.5,445.5 378.5,446.5 379.5,444.5 380.5,443.5 381.5,444.5 382.5,442.5 383.5,442.5 384.5,443.5 385.5,444.5 387.5,444.5 388.5,443.5 389.5,445.5 391.5,445.5 392.5,446.5 395.5,446.5 396.5,445.5 397.5,445.5 398.5,446.5 399.5,445.5 400.5,445.5 401.5,446.5 404.5,446.5 405.5,445.5 408.5,445.5 409.5,444.5 410.5,445.5 411.5,445.5 412.5,444.5 413.5,445.5 414.5,445.5 415.5,444.5 416.5,444.5 417.5,445.5 418.5,444.5 423.5,444.5 424.5,445.5 425.5,444.5 426.5,444.5 427.5,445.5 429.5,445.5 430.5,444.5 432.5,444.5 433.5,443.5 434.5,442.5 435.5,441.5 436.5,442.5 437.5,442.5 438.5,443.5 439.5,439.5 440.5,441.5 441.5,441.5 442.5,440.5 443.5,441.5 444.5,443.5 445.5,442.5 446.5,440.5 447.5,440.5 448.5,441.5 449.5,442.5 450.5,442.5 451.5,443.5 452.5,444.5 453.5,444.5 454.5,443.5 455.5,444.5 457.5,444.5 458.5,443.5 459.5,443.5 460.5,442.5 461.5,443.5 462.5,444.5 463.5,444.5 464.5,445.5 465.5,445.5 466.5,443.5 467.5,445.5 470.5,445.5 471.5,443.5 472.5,444.5 473.5,445.5 474.5,443.5 476.5,443.5 477.5,444.5 478.5,444.5 479.5,446.5 480.5,446.5 481.5,447.5 482.5,446.5 485.5,446.5 486.5,447.5 488.5,446.5 489.5,447.5 494.5,447.5 495.5,446.5 496.5,447.5 502.5,447.5 503.5,446.5 504.5,447.5 505.5,445.5 506.5,444.5 507.5,444.5 508.5,445.5 509.5,447.5 510.5,446.5 511.5,446.5 512.5,447.5 514.5,448.5 515.5,447.5 516.5,448.5 517.5,447.5 519.5,447.5 520.5,446.5 525.5,446.5 526.5,447.5 527.5,447.5 528.5,448.5 531.5,448.5 532.5,447.5 534.5,447.5 535.5,446.5 536.5,445.5 537.5,447.5 538.5,447.5 539.5,448.5 541.5,448.5 542.5,447.5 544.5,447.5 545.5,446.5 546.5,446.5 547.5,445.5 548.5,445.5 549.5,444.5 550.5,444.5 551.5,443.5 552.5,443.5 553.5,445.5 554.5,444.5 558.5,444.5 559.5,445.5 560.5,446.5 561.5,446.5 562.5,447.5 565.5,447.5 566.5,446.5 567.5,446.5 568.5,447.5 569.5,446.5 570.5,446.5 571.5,447.5 577.5,447.5 578.5,448.5 583.5,448.5 584.5,449.5 587.5,449.5 588.5,448.5 589.5,448.5 590.5,449.5 598.5,449.5" fill="none" stroke="#9400d3" stroke-width="1"/><polyline points="111.5,280.5 112.5,282.5 113.5,281.5 114.5,278.5 115.5,278.5 114.5,279.5 114.5,294.5 115.5,313.5 116.5,278.5 116.5,290.5 117.5,306.5 118.5,272.5 118.5,290.5 119.5,272.5 119.5,290.5 120.5,273.5 120.5,309.5 121.5,274.5 121.5,290.5 122.5,311.5 122.5,293.5 123.5,291.5 123.5,309.5 124.5,290.5 124.5,274.5 125.5,274.5 125.5,290.5 126.5,280.5 126.5,276.5 127.5,273.5 127.5,291.5 128.5,310.5 129.5,292.5 129.5,310.5 130.5,291.5 130.5,276.5 131.5,274.5 132.5,274.5 133.5,312.5 133.5,292.5 134.5,310.5 134.5,272.5 135.5,271.5 136.5,272.5 136.5,291.5 137.5,309.5 138.5,266.5 138.5,290.5 139.5,282.5 140.5,290.5 141.5,300.5 142.5,307.5 142.5,297.5 143.5,293.5 144.5,296.5 145.5,293.5 146.5,290.5 147.5,296.5 148.5,292.5 149.5,287.5 150.5,296.5 151.5,289.5 152.5,296.5 153.5,285.5 154.5,292.5 155.5,287.5 156.5,294.5 157.5,286.5 158.5,291.5 159.5,280.5 160.5,288.5 161.5,285.5 162.5,296.5 163.5,287.5 164.5,288.5 165.5,287.5 166.5,288.5 167.5,287.5 168.5,288.5 169.5,287.5 170.5,288.5 171.5,286.5 172.5,288.5 173.5,284.5 174.5,284.5 175.5,290.5 176.5,280.5 177.5,289.5 178.5,278.5 179.5,290.5 180.5,282.5 181.5,289.5 182.5,282.5 183.5,280.5 184.5,283.5 185.5,286.5 186.5,281.5 187.5,276.5 188.5,290.5 189.5,288.5 190.5,281.5 191.5,288.5 192.5,287.5 193.5,284.5 194.5,289.5 195.5,281.5 196.5,287.5 197.5,283.5 198.5,283.5 199.5,288.5 200.5,284.5 201.5,287.5 202.5,283.5 203.5,288.5 204.5,283.5 205.5,282.5 206.5,283.5 207.5,281.5 208.5,289.5 209.5,280.5 210.5,287.5 211.5,280.5 212.5,283.5 213.5,286.5 214.5,285.5 215.5,281.5 216.5,288.5 217.5,283.5 218.5,285.5 219.5,283.5 220.5,281.5 221.5,285.5 222.5,283.5 223.5,277.5 224.5,285.5 225.5,280.5 226.5,285.5 227.5,285.5 228.5,284.5 229.5,286.5 230.5,286.5 231.5,281.5 232.5,283.5 233.5,286.5 234.5,279.5 235.5,285.5 236.5,282.5 237.5,280.5 238.5,284.5 239.5,281.5 240.5,282.5 241.5,283.5 242.5,282.5 243.5,278.5 244.5,277.5 245.5,282.5 246.5,277.5 247.5,276.5 248.5,283.5 249.5,279.5 250.5,283.5 251.5,283.5 252.5,273.5 253.5,278.5 254.5,280.5 255.5,281.5 256.5,278.5 257.5,282.5 258.5,277.5 259.5,281.5 260.5,280.5 261.5,279.5 262.5,282.5 263.5,278.5 264.5,277.5 265.5,278.5 266.5,282.5 267.5,278.5 268.5,277.5 269.5,281.5 270.5,283.5 271.5,277.5 272.5,278.5 273.5,284.5 274.5,279.5 275.5,283.5 276.5,277.5 277.5,279.5 278.5,279.5 279.5,282.5 280.5,277.5 281.5,280.5 282.5,282.5 283.5,279.5 284.5,282.5 285.5,284.5 286.5,284.5 287.5,280.5 288.5,285.5 289.5,282.5 290.5,282.5 291.5,279.5 292.5,283.5 293.5,279.5 294.5,283.5 295.5,279.5 296.5,284.5 297.5,282.5 298.5,279.5 299.5,284.5 300.5,283.5 301.5,281.5 302.5,284.5 303.5,281.5 304.5,285.5 305.5,285.5 306.5,279.5 307.5,280.5 308.5,280.5 309.5,280.5 310.5,279.5 311.5,278.5 312.5,281.5 313.5,277.5 314.5,274.5 315.5,281.5 316.5,276.5 317.5,277.5 318.5,273.5 319.5,277.5 320.5,279.5 321.5,271.5 322.5,273.5 323.5,276.5 324.5,272.5 325.5,276.5 326.5,273.5 327.5,274.5 328.5,276.5 329.5,272.5 330.5,276.5 331.5,271.5 332.5,272.5 333.5,273.5 334.5,275.5 335.5,278.5 336.5,280.5 337.5,279.5 338.5,277.5 339.5,279.5 340.5,273.5 341.5,273.5 342.5,277.5 343.5,272.5 344.5,276.5 345.5,271.5 346.5,277.5 347.5,277.5 348.5,273.5 349.5,278.5 350.5,275.5 351.5,277.5 352.5,275.5 353.5,278.5 354.5,277.5 355.5,279.5 356.5,279.5 357.5,284.5 358.5,279.5 359.5,286.5 360.5,279.5 361.5,286.5 362.5,279.5 363.5,284.5 364.5,281.5 365.5,285.5 366.5,282.5 367.5,286.5 368.5,280.5 369.5,283.5 370.5,281.5 371.5,285.5 372.5,280.5 373.5,281.5 374.5,278.5 375.5,282.5 376.5,278.5 377.5,282.5 378.5,279.5 379.5,284.5 380.5,279.5 381.5,283.5 382.5,278.5 383.5,283.5 384.5,278.5 385.5,283.5 386.5,283.5 387.5,278.5 388.5,284.5 389.5,281.5 390.5,284.5 391.5,282.5 392.5,286.5 393.5,282.5 394.5,289.5 395.5,289.5 396.5,281.5 397.5,286.5 398.5,285.5 399.5,283.5 400.5,287.5 401.5,288.5 402.5,284.5 403.5,282.5 404.5,287.5 405.5,287.5 406.5,282.5 407.5,285.5 408.5,285.5 409.5,281.5 410.5,286.5 411.5,281.5 412.5,287.5 413.5,281.5 414.5,279.5 415.5,279.5 416.5,279.5 417.5,280.5 418.5,280.5 419.5,285.5 420.5,286.5 421.5,282.5 422.5,284.5 423.5,287.5 424.5,284.5 425.5,292.5 426.5,283.5 427.5,287.5 428.5,284.5 429.5,287.5 430.5,282.5 431.5,286.5 432.5,280.5 433.5,282.5 434.5,282.5 435.5,278.5 436.5,278.5 437.5,282.5 438.5,282.5 439.5,278.5 440.5,281.5 441.5,275.5 442.5,279.5 443.5,276.5 444.5,278.5 445.5,279.5 446.5,282.5 447.5,281.5 448.5,277.5 449.5,279.5 450.5,280.5 451.5,279.5 452.5,282.5 453.5,278.5 454.5,282.5 455.5,285.5 456.5,279.5 457.5,284.5 458.5,283.5 459.5,280.5 460.5,282.5 461.5,279.5 462.5,284.5 463.5,284.5 464.5,280.5 465.5,284.5 466.5,284.5 467.5,286.5 468.5,282.5 469.5,284.5 470.5,281.5 471.5,280.5 472.5,286.5 473.5,280.5 474.5,280.5 475.5,284.5 476.5,282.5 477.5,287.5 478.5,284.5 479.5,283.5 480.5,287.5 481.5,289.5 482.5,288.5 483.5,286.5 484.5,291.5 485.5,283.5 486.5,289.5 487.5,284.5 488.5,291.5 489.5,293.5 490.5,287.5 491.5,292.5 492.5,285.5 493.5,290.5 494.5,283.5 495.5,290.5 496.5,291.5 497.5,290.5 498.5,288.5 499.5,291.5 500.5,287.5 501.5,290.5 502.5,284.5 503.5,290.5 504.5,284.5 505.5,291.5 506.5,290.5 507.5,285.5 508.5,291.5 509.5,289.5 510.5,287.5 511.5,288.5 512.5,291.5 513.5,285.5 514.5,292.5 515.5,287.5 516.5,294.5 517.5,284.5 518.5,287.5 519.5,292.5 520.5,289.5 521.5,288.5 522.5,285.5 523.5,283.5 524.5,294.5 525.5,283.5 526.5,293.5 527.5,287.5 528.5,284.5 529.5,287.5 530.5,294.5 531.5,286.5 532.5,288.5 533.5,287.5 534.5,285.5 535.5,293.5 536.5,287.5 537.5,287.5 538.5,294.5 539.5,286.5 540.5,296.5 541.5,300.5 542.5,297.5 543.5,292.5 544.5,286.5 545.5,292.5 546.5,284.5 547.5,289.5 548.5,292.5 549.5,282.5 550.5,282.5 551.5,285.5 552.5,280.5 553.5,285.5 554.5,279.5 555.5,281.5 556.5,284.5 557.5,286.5 558.5,284.5 559.5,287.5 560.5,290.5 561.5,287.5 562.5,291.5 563.5,286.5 564.5,286.5 565.5,286.5 566.5,287.5 567.5,282.5 568.5,287.5 569.5,285.5 570.5,291.5 571.5,286.5 572.5,295.5 573.5,284.5 574.5,290.5 575.5,286.5 576.5,290.5 577.5,287.5 578.5,287.5 579.5,292.5 580.5,288.5 581.5,292.5 582.5,290.5 583.5,292.5 584.5,288.5 585.5,290.5 586.5,291.5 587.5,295.5 588.5,293.5 589.5,297.5 590.5,291.5 591.5,295.5 592.5,300.5 593.5,297.5 594.5,301.5 595.5,301.5 596.5,296.5 597.5,301.5 598.5,305.5" fill="none" stroke="#009e73" stroke-width="1"/><polyline points="111.5,279.5 113.5,281.5 114.5,278.5 115.5,278.5 114.5,279.5 114.5,294.5 115.5,313.5 116.5,278.5 116.5,290.5 117.5,306.5 118.5,272.5 118.5,290.5 119.5,272.5 119.5,290.5 120.5,273.5 120.5,309.5 121.5,274.5 121.5,290.5 122.5,311.5 122.5,293.5 123.5,291.5 123.5,309.5 124.5,290.5 124.5,274.5 125.5,274.5 125.5,290.5 126.5,280.5 126.5,276.5 127.5,273.5 127.5,291.5 128.5,310.5 129.5,292.5 129.5,310.5 130.5,291.5 130.5,276.5 131.5,274.5 132.5,274.5 133.5,312.5 133.5,292.5 134.5,310.5 134.5,272.5 135.5,271.5 136.5,272.5 136.5,291.5 137.5,309.5 138.5,266.5 138.5,290.5 139.5,304.5 140.5,307.5 141.5,268.5 142.5,283.5 142.5,300.5 143.5,296.5 144.5,290.5 145.5,297.5 146.5,280.5 147.5,266.5 148.5,280.5 148.5,300.5 149.5,292.5 150.5,300.5 151.5,291.5 152.5,296.5 153.5,288.5 154.5,293.5 155.5,289.5 156.5,297.5 157.5,288.5 158.5,299.5 159.5,284.5 160.5,289.5 161.5,287.5 162.5,302.5 163.5,289.5 164.5,287.5 165.5,286.5 166.5,287.5 167.5,287.5 168.5,286.5 169.5,287.5 170.5,285.5 171.5,289.5 172.5,285.5 173.5,287.5 174.5,284.5 175.5,286.5 176.5,282.5 177.5,286.5 178.5,281.5 179.5,283.5 180.5,289.5 181.5,284.5 182.5,282.5 183.5,287.5 184.5,281.5 185.5,287.5 186.5,282.5 187.5,288.5 188.5,281.5 189.5,287.5 190.5,290.5 191.5,281.5 192.5,284.5 193.5,291.5 194.5,290.5 195.5,291.5 196.5,290.5 197.5,288.5 198.5,283.5 199.5,281.5 200.5,288.5 201.5,281.5 202.5,290.5 203.5,281.5 204.5,281.5 205.5,289.5 206.5,283.5 207.5,282.5 208.5,283.5 209.5,288.5 210.5,280.5 211.5,287.5 212.5,282.5 213.5,284.5 214.5,283.5 215.5,288.5 216.5,282.5 217.5,286.5 218.5,282.5 219.5,287.5 220.5,286.5 221.5,286.5 222.5,282.5 223.5,286.5 224.5,282.5 225.5,285.5 226.5,282.5 227.5,286.5 228.5,281.5 229.5,285.5 230.5,280.5 231.5,278.5 232.5,281.5 233.5,286.5 234.5,284.5 235.5,281.5 236.5,283.5 237.5,284.5 238.5,280.5 239.5,284.5 240.5,284.5 241.5,279.5 242.5,284.5 243.5,279.5 244.5,284.5 245.5,277.5 246.5,278.5 247.5,276.5 248.5,284.5 249.5,279.5 250.5,278.5 251.5,282.5 252.5,277.5 253.5,282.5 254.5,278.5 255.5,277.5 256.5,283.5 257.5,277.5 258.5,282.5 259.5,282.5 260.5,279.5 261.5,278.5 262.5,281.5 263.5,279.5 264.5,282.5 265.5,278.5 266.5,281.5 267.5,282.5 268.5,279.5 269.5,282.5 270.5,278.5 271.5,280.5 272.5,283.5 273.5,277.5 274.5,284.5 275.5,277.5 276.5,283.5 277.5,282.5 278.5,278.5 279.5,283.5 280.5,282.5 281.5,281.5 282.5,278.5 283.5,280.5 284.5,279.5 285.5,279.5 286.5,279.5 287.5,284.5 288.5,281.5 289.5,278.5 290.5,283.5 291.5,279.5 292.5,278.5 293.5,283.5 294.5,278.5 295.5,278.5 296.5,283.5 297.5,284.5 298.5,280.5 299.5,285.5 300.5,281.5 301.5,280.5 302.5,284.5 303.5,278.5 304.5,281.5 305.5,285.5 306.5,278.5 307.5,279.5 308.5,282.5 309.5,278.5 310.5,282.5 311.5,276.5 312.5,283.5 313.5,278.5 314.5,275.5 315.5,275.5 316.5,279.5 317.5,273.5 318.5,279.5 319.5,272.5 320.5,277.5 321.5,273.5 322.5,277.5 323.5,277.5 324.5,276.5 325.5,273.5 326.5,277.5 327.5,272.5 328.5,276.5 329.5,270.5 330.5,275.5 331.5,275.5 332.5,270.5 333.5,277.5 334.5,277.5 335.5,280.5 336.5,279.5 337.5,283.5 338.5,277.5 339.5,275.5 340.5,274.5 341.5,273.5 342.5,272.5 343.5,275.5 344.5,277.5 345.5,273.5 346.5,276.5 347.5,277.5 348.5,277.5 349.5,276.5 350.5,273.5 351.5,275.5 352.5,277.5 353.5,280.5 354.5,279.5 355.5,277.5 356.5,281.5 357.5,281.5 358.5,277.5 359.5,288.5 360.5,281.5 361.5,284.5 362.5,280.5 363.5,285.5 364.5,282.5 365.5,281.5 366.5,291.5 367.5,278.5 368.5,287.5 369.5,282.5 370.5,285.5 371.5,286.5 372.5,286.5 373.5,281.5 374.5,279.5 375.5,278.5 376.5,280.5 377.5,281.5 378.5,284.5 379.5,283.5 380.5,281.5 381.5,283.5 382.5,280.5 383.5,285.5 384.5,278.5 385.5,280.5 386.5,280.5 387.5,285.5 388.5,278.5 389.5,278.5 390.5,282.5 391.5,285.5 392.5,282.5 393.5,287.5 394.5,282.5 395.5,283.5 396.5,287.5 397.5,288.5 398.5,288.5 399.5,283.5 400.5,288.5 401.5,288.5 402.5,284.5 403.5,283.5 404.5,286.5 405.5,283.5 406.5,286.5 407.5,286.5 408.5,283.5 409.5,283.5 410.5,287.5 411.5,283.5 412.5,287.5 413.5,279.5 414.5,284.5 415.5,279.5 416.5,288.5 417.5,279.5 418.5,287.5 419.5,286.5 420.5,288.5 421.5,282.5 422.5,285.5 423.5,281.5 424.5,282.5 425.5,281.5 426.5,279.5 427.5,287.5 428.5,283.5 429.5,284.5 430.5,286.5 431.5,281.5 432.5,283.5 433.5,278.5 434.5,281.5 435.5,282.5 436.5,278.5 437.5,283.5 438.5,278.5 439.5,280.5 440.5,276.5 441.5,280.5 442.5,277.5 443.5,280.5 444.5,277.5 445.5,277.5 446.5,281.5 447.5,278.5 448.5,281.5 449.5,278.5 450.5,281.5 451.5,279.5 452.5,279.5 453.5,283.5 454.5,278.5 455.5,276.5 456.5,283.5 457.5,282.5 458.5,280.5 459.5,283.5 460.5,282.5 461.5,281.5 462.5,284.5 463.5,281.5 464.5,285.5 465.5,281.5 466.5,286.5 467.5,281.5 468.5,287.5 469.5,279.5 470.5,287.5 471.5,285.5 472.5,280.5 473.5,284.5 474.5,283.5 475.5,282.5 476.5,285.5 477.5,286.5 478.5,283.5 479.5,286.5 480.5,287.5 481.5,280.5 482.5,290.5 483.5,279.5 484.5,284.5 485.5,299.5 486.5,291.5 487.5,290.5 488.5,287.5 489.5,290.5 490.5,290.5 491.5,286.5 492.5,292.5 493.5,285.5 494.5,292.5 495.5,286.5 496.5,284.5 497.5,291.5 498.5,287.5 499.5,291.5 500.5,288.5 501.5,292.5 502.5,297.5 503.5,290.5 504.5,285.5 505.5,290.5 506.5,291.5 507.5,287.5 508.5,292.5 509.5,290.5 510.5,289.5 511.5,292.5 512.5,292.5 513.5,288.5 514.5,290.5 515.5,294.5 516.5,293.5 517.5,298.5 518.5,290.5 519.5,285.5 520.5,288.5 521.5,284.5 522.5,291.5 523.5,284.5 524.5,290.5 525.5,289.5 526.5,285.5 527.5,291.5 528.5,287.5 529.5,292.5 530.5,286.5 531.5,294.5 532.5,287.5 533.5,292.5 534.5,286.5 535.5,289.5 536.5,284.5 537.5,292.5 538.5,288.5 539.5,296.5 540.5,300.5 541.5,302.5 542.5,288.5 543.5,293.5 544.5,288.5 545.5,296.5 546.5,291.5 547.5,288.5 548.5,283.5 549.5,282.5 550.5,284.5 551.5,281.5 552.5,285.5 553.5,280.5 554.5,283.5 555.5,278.5 556.5,281.5 557.5,282.5 558.5,282.5 559.5,290.5 560.5,288.5 561.5,291.5 562.5,289.5 563.5,289.5 564.5,295.5 565.5,287.5 566.5,287.5 567.5,290.5 568.5,291.5 569.5,292.5 570.5,289.5 571.5,293.5 572.5,287.5 573.5,293.5 574.5,290.5 575.5,289.5 576.5,295.5 577.5,292.5 578.5,290.5 579.5,302.5 580.5,296.5 581.5,301.5 582.5,295.5 583.5,307.5 584.5,309.5 585.5,281.5 586.5,305.5 587.5,305.5 588.5,295.5 589.5,298.5 590.5,309.5 591.5,301.5 592.5,312.5 593.5,310.5 594.5,301.5 595.5,313.5 596.5,305.5 597.5,316.5" fill="none" stroke="#56b4e9" stroke-width="1"/><path d="M146 452h7v1h-7zM154 452h386v1h-386zM541 452h39v1h-39zM581 452h2v1h-2zM314 451h4v1h-4zM319 451h15v1h-15zM340 451h4v1h-4zM344 451h2v1h-2zM347 451h6v1h-6zM354 451h1v1h-1zM435 451h1v1h-1zM439 451h2v1h-2zM441 451h4v1h-4zM445 451h4v1h-4zM270 451h1v1h-1zM273 451h1v1h-1zM277 451h4v1h-4zM284 451h1v1h-1zM317 450h2v1h-2zM346 450h1v1h-1z" fill="#e69f00"/><path d="M229 452h4v1h-4zM239 452h1v1h-1zM244 452h1v1h-1zM250 452h1v1h-1zM254 452h7v1h-7zM262 452h3v1h-3zM269 452h17v1h-17zM290 452h2v1h-2zM296 452h2v1h-2zM301 452h6v1h-6zM310 452h49v1h-49zM373 452h3v1h-3zM380 452h6v1h-6zM387 452h3v1h-3zM408 452h2v1h-2zM412 452h2v1h-2zM415 452h3v1h-3zM419 452h5v1h-5zM432 452h21v1h-21zM454 452h3v1h-3zM458 452h6v1h-6zM466 452h2v1h-2zM470 452h2v1h-2zM474 452h2v1h-2zM549 452h4v1h-4zM553 452h2v1h-2zM555 452h5v1h-5z" fill="#f0e442"/></svg>
<div id="tx"><div class="t" style="left:208px;top:18px">Leistung, DC-Spannung/-Strom 20251027</div><div class="t" style="left:44px;top:451px">0</div><div class="t" style="left:23px;top:368px">2000</div><div class="t" style="left:23px;top:285px">4000</div><div class="t" style="left:23px;top:203px">6000</div><div class="t" style="left:23px;top:120px">8000</div><div class="t" style="left:16px;top:37px">10000</div><div class="t" style="left:41px;top:464px">07:00</div><div class="t" style="left:97px;top:464px">08:00</div><div class="t" style="left:153px;top:464px">09:00</div><div class="t" style="left:209px;top:464px">10:00</div><div class="t" style="left:265px;top:464px">11:00</div><div class="t" style="left:321px;top:464px">12:00</div><div class="t" style="left:376px;top:464px">13:00</div><div class="t" style="left:432px;top:464px">14:00</div><div class="t" style="left:488px;top:464px">15:00</div><div class="t" style="left:544px;top:464px">16:00</div><div class="t" style="left:600px;top:464px">17:00</div><div class="t" style="left:480px;top:48px">Leistung [W]</div><div class="t" style="left:480px;top:61px">Udc1 [100mV]</div><div class="t" style="left:480px;top:74px">Udc2 [100mV]</div><div class="t" style="left:487px;top:87px">Idc1 [10mA]</div><div class="t" style="left:487px;top:100px">Idc2 [10mA]</div></div>
</body></html>
